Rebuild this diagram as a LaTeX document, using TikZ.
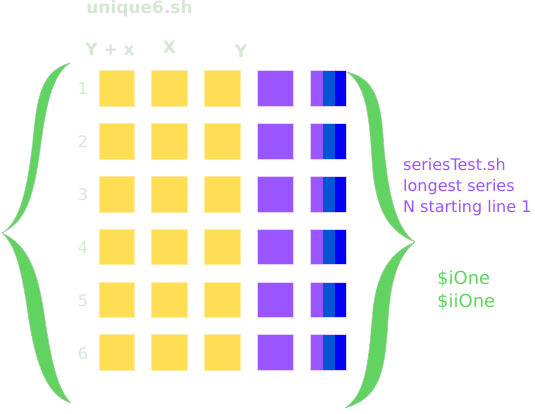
\documentclass[tikz,border=0pt]{standalone}
\usepackage{fontspec}
\setmainfont{DejaVu Sans}
\definecolor{hdr}{RGB}{213,230,211}
\definecolor{yel}{RGB}{255,221,85}
\definecolor{yelb}{RGB}{255,236,160}
\definecolor{pur}{RGB}{153,85,255}
\definecolor{purb}{RGB}{225,208,255}
\definecolor{mblue}{RGB}{0,85,212}
\definecolor{bblue}{RGB}{0,0,255}
\definecolor{brc}{RGB}{97,211,97}
\definecolor{brcb}{RGB}{165,205,165}
\begin{document}
\begin{tikzpicture}[x=1pt,y=-1pt,
  ysq/.style={draw=yelb,fill=yel,line width=0.7pt,minimum size=35.5pt,inner sep=0pt,outer sep=0pt},
  psq/.style={draw=purb,fill=pur,line width=0.7pt,minimum size=35.5pt,inner sep=0pt,outer sep=0pt},
  slice/.style={draw=none,minimum width=12pt,minimum height=35.5pt,inner sep=0pt,outer sep=0pt},
  rownum/.style={text=hdr,font=\fontsize{16}{18}\selectfont,anchor=base,inner sep=0pt},
  hdrtxt/.style={text=hdr,font=\bfseries\fontsize{17}{20}\selectfont,anchor=base,inner sep=0pt},
  purtxt/.style={text=pur,font=\fontsize{16}{20}\selectfont,anchor=base west,inner sep=0pt},
  grntxt/.style={text=brc,font=\fontsize{18}{22}\selectfont,anchor=base west,inner sep=0pt},
  brace/.style={fill=brc,draw=brcb,line width=0.6pt,line join=round}]
\useasboundingbox (0,0) rectangle (535,414);
% headers
\node[hdrtxt] (title) at (139.5,13.5) {unique6.sh};
\node[hdrtxt] (hyx) at (110,56) {Y + x};
\node[hdrtxt] (hx) at (169.5,54) {X};
\node[hdrtxt] (hy) at (241,57.5) {Y};
% grid
\foreach \r/\yy in {1/88.5,2/141.3,3/194.1,4/246.9,5/299.7,6/352.5}{
  \node[rownum] (n\r) at (83,\yy+6.5) {\r};
  \node[ysq] (a\r) at (117,\yy) {};
  \node[ysq] (b\r) at (169.5,\yy) {};
  \node[ysq] (c\r) at (222.5,\yy) {};
  \node[psq] (d\r) at (275.5,\yy) {};
  \node[slice,fill=pur] (e\r) at (316.5,\yy) {};
  \node[slice,fill=mblue] (f\r) at (328.5,\yy) {};
  \node[slice,fill=bblue] (g\r) at (340.5,\yy) {};
  \draw[purb,line width=0.7pt] (e\r.north west) rectangle (g\r.south east);
}
% left brace
\path[brace] (70,63) .. controls (45,70) and (38,90) .. (34,130)
  .. controls (28,190) and (20,222) .. (2,233)
  .. controls (15,245) and (20,265) .. (26,300)
  .. controls (34,360) and (45,395) .. (71,403)
  .. controls (58,390) and (52,365) .. (45,320)
  .. controls (38,270) and (28,245) .. (2,233)
  .. controls (25,222) and (33,200) .. (40,150)
  .. controls (46,105) and (52,75) .. (70,63) -- cycle;
% right brace
\path[brace] (347,72) .. controls (372,78) and (380,95) .. (383,135)
  .. controls (387,190) and (395,228) .. (415,242)
  .. controls (395,258) and (390,290) .. (388,320)
  .. controls (385,372) and (380,398) .. (345,408)
  .. controls (364,395) and (368,370) .. (372,320)
  .. controls (375,280) and (385,255) .. (415,242)
  .. controls (390,232) and (375,212) .. (372,160)
  .. controls (369,110) and (365,85) .. (347,72) -- cycle;
% texts
\node[purtxt] (p1) at (403,171) {seriesTest.sh};
\node[purtxt] (p2) at (403,191.5) {longest series};
\node[purtxt] (p3) at (403,212) {N starting line 1};
\node[grntxt] (g1) at (437,284) {\$iOne};
\node[grntxt] (g2) at (437,307.5) {\$iiOne};
\end{tikzpicture}
\end{document}
